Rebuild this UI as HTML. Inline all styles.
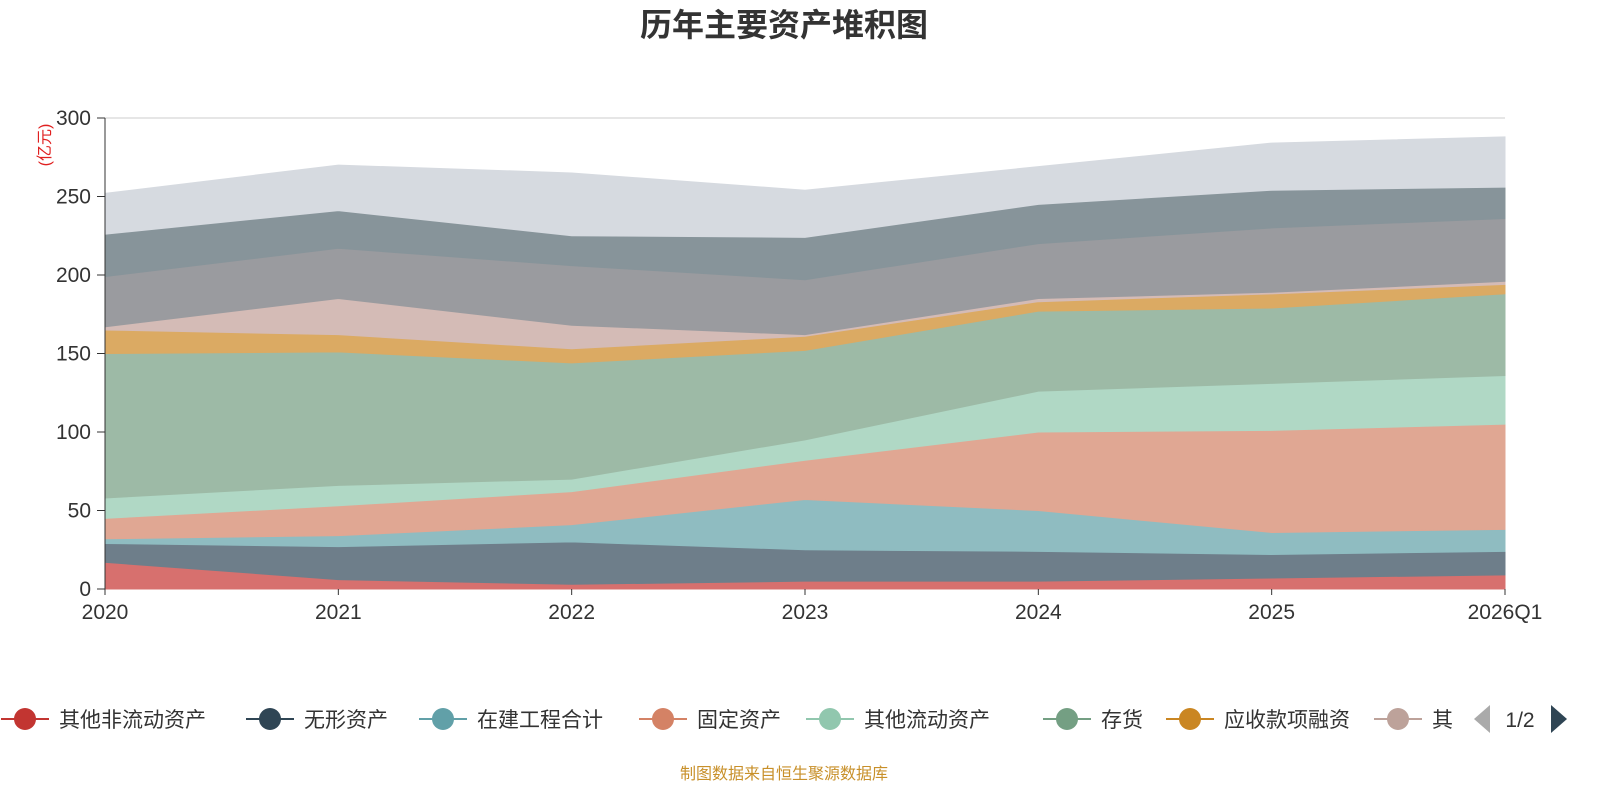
<!DOCTYPE html>
<html><head><meta charset="utf-8"><style>
body{margin:0;background:#fff;width:1600px;height:800px;overflow:hidden;font-family:"Liberation Sans","Noto Sans CJK SC",sans-serif;}
</style></head><body>
<svg id="chart" width="1600" height="800" font-family="Liberation Sans, Noto Sans CJK SC, sans-serif">
<text x="784" y="36" text-anchor="middle" font-size="32" font-weight="bold" fill="#333">历年主要资产堆积图</text>
<text transform="translate(50,145) rotate(-90)" text-anchor="middle" font-size="16" fill="#e02020">(亿元)</text>
<g id="grid"></g><g id="areas"></g><g id="axes"></g><g id="legend"></g>
<text x="784" y="779" text-anchor="middle" font-size="16" fill="#c8902a">制图数据来自恒生聚源数据库</text>
</svg>
<script>
const categories=["2020","2021","2022","2023","2024","2025","2026Q1"];
const seriesNames=["其他非流动资产","无形资产","在建工程合计","固定资产","其他流动资产","存货","应收款项融资","其他","其他资产A","其他资产B","其他资产C"];
const s1=[17,6,3,5,5,7,9];
const s2=[12,21,27,20,19,15,15];
const s3=[3,7,11,32,26,14,14];
const s4=[13,19,21,25,50,65,67];
const s5=[13,13,8,13,26,30,31];
const s6=[92,85,74,57,51,48,52];
const s7=[15,11,9,9,6,9,6];
const s8=[2,23,15,1,2,1,2];
const s9=[32,32,38,35,35,41,40];
const s10=[27,24,19,27,25,24,20];
const s11=[26,29,40,30,24,30,32];
const yTicks=[0,50,100,150,200,250,300];
const series=[s1,s2,s3,s4,s5,s6,s7,s8,s9,s10,s11];
const fills=["#d7706e","#6e7e8a","#8fbcc1","#e0a793","#b0d8c5","#9dbaa6","#dbaa63","#d4bbb6","#9a9b9f","#87949a","#d6dae0"];
const legendColors=["#c23531","#2f4554","#61a0a8","#d48265","#91c7ae","#749f83","#ca8622","#bda29a"];
const NS="http://www.w3.org/2000/svg";
const X0=105,X1=1505,Y0=589,Y1=118,YMAX=300;
const xs=i=>X0+(X1-X0)*i/(categories.length-1);
const ys=v=>Y0-(Y0-Y1)*v/YMAX;
function mk(t,a,p){const e=document.createElementNS(NS,t);for(const k in a)e.setAttribute(k,a[k]);p.appendChild(e);return e;}
const grid=document.getElementById('grid'),areas=document.getElementById('areas'),axes=document.getElementById('axes'),leg=document.getElementById('legend');
yTicks.forEach(v=>{
 const l=mk('line',{x1:X0,x2:X1,y1:ys(v),y2:ys(v),stroke:v==0?'#333':'#ccc','stroke-width':1},grid);
 
 
 const t=mk('text',{x:X0-14,y:ys(v)+7,'text-anchor':'end','font-size':21,fill:'#333'},axes);t.textContent=v;
 
 
 const tk=mk('line',{x1:X0-8,x2:X0,y1:ys(v),y2:ys(v),stroke:'#333'},axes);
 
 
});
let base=categories.map(()=>0);
series.forEach((s,k)=>{
 const top=s.map((v,i)=>base[i]+v);
 let d='M'+top.map((v,i)=>xs(i)+','+ys(v)).join(' L');
 for(let i=categories.length-1;i>=0;i--)d+=' L'+xs(i)+','+ys(base[i]);
 const p=mk('path',{d:d+'Z',fill:fills[k],stroke:fills[k],'stroke-width':1},areas);
 
 
 base=top;
});
mk('line',{x1:X0,x2:X0,y1:Y1,y2:Y0,stroke:'#333'},axes);
categories.forEach((c,i)=>{
 const t=mk('text',{x:xs(i),y:Y0+30,'text-anchor':'middle','font-size':21,fill:'#333'},axes);t.textContent=c;
 
 
 const tk=mk('line',{x1:xs(i),x2:xs(i),y1:Y0,y2:Y0+6,stroke:'#333'},axes);
 
 
});
const lx=[25,270,443,663,830,1067,1190,1398];
const ly=719;
lx.forEach((x,k)=>{
 const g=mk('g',{},leg);
 
 
 mk('line',{x1:x-24,x2:x+24,y1:ly,y2:ly,stroke:legendColors[k],'stroke-width':2},g);
 mk('circle',{cx:x,cy:ly,r:11,fill:legendColors[k]},g);
 const t=mk('text',{x:x+34,y:ly+8,'font-size':21,fill:'#333'},g);t.textContent=k==7?'其':seriesNames[k];
});
mk('rect',{x:1455,y:700,width:145,height:40,fill:'#fff'},leg);
const pl=mk('path',{d:'M1490,705 L1490,733 L1474,719Z',fill:'#aaa'},leg);


const pt=mk('text',{x:1520,y:727,'text-anchor':'middle','font-size':21,fill:'#333'},leg);pt.textContent='1/2';


const pn=mk('path',{d:'M1551,705 L1551,733 L1567,719Z',fill:'#2f4554'},leg);


</script>
</body></html>
